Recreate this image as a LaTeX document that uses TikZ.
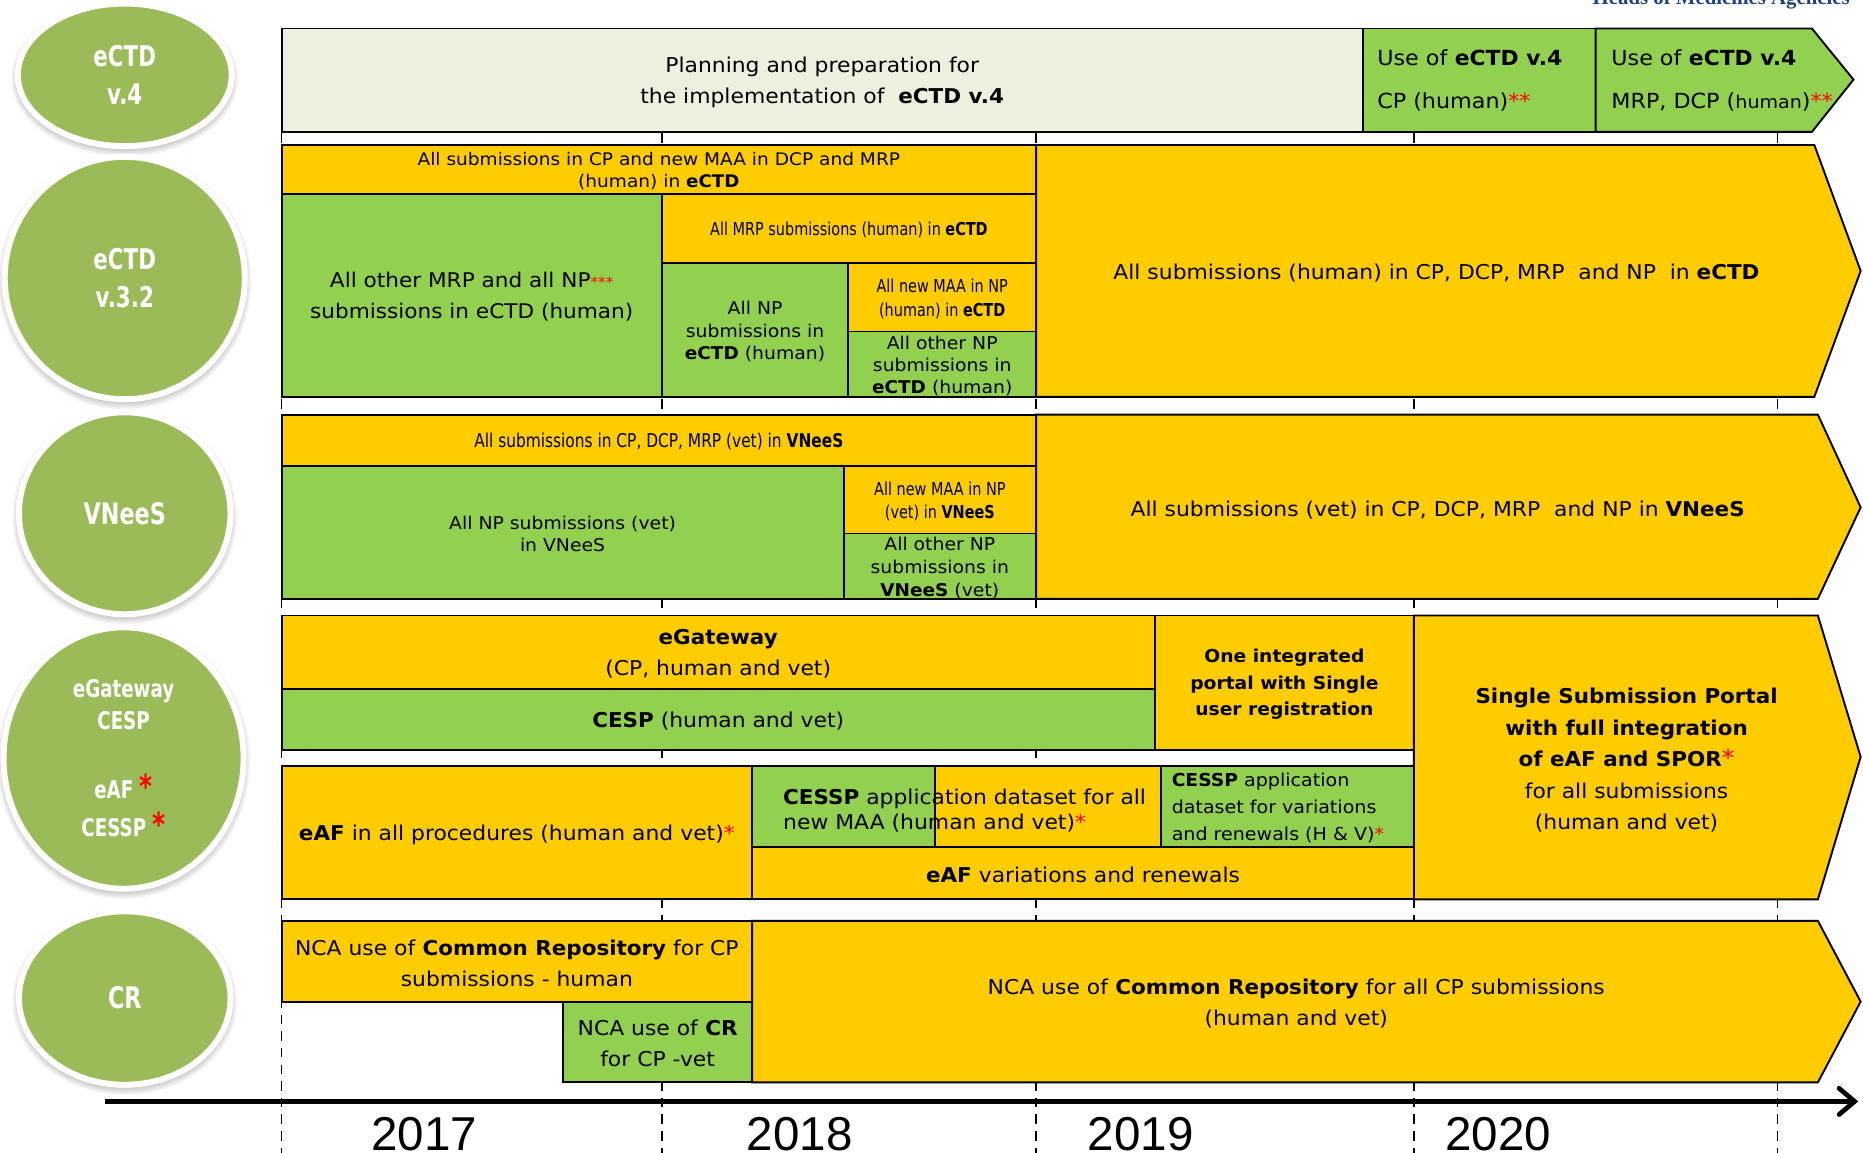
\documentclass[tikz,border=0pt]{standalone}
\usepackage{fontspec}
\setmainfont{DejaVu Sans}[UprightFeatures={FakeStretch=1.07}, BoldFeatures={FakeStretch=1.05}]
\newfontfamily\cond[FakeStretch=0.81]{DejaVu Sans}
\newfontfamily\circf[FakeStretch=0.75]{DejaVu Sans}
\newfontfamily\yearf{Liberation Sans}
\newfontfamily\hmaf{Liberation Serif}
\usetikzlibrary{shapes.geometric,arrows.meta}
\definecolor{yel}{HTML}{FFCC00}
\definecolor{grn}{HTML}{92D050}
\definecolor{olv}{HTML}{9BBB59}
\definecolor{pln}{HTML}{EBF1DE}
\definecolor{hma}{HTML}{1F3F7F}
\newcommand\fsz[2]{\fontsize{#1}{#2}\selectfont}
\newcommand\rs[1]{\textcolor{red}{#1}}
\tikzset{
  cellbox/.style={draw=black, line width=1.6pt, inner sep=0pt},
  celltext/.style={inner sep=0pt, align=center},
  arrowbox/.style={draw=black, line width=1.6pt, line join=miter},
  bub/.style={ellipse, fill=olv, draw=white, line width=5pt, inner sep=0pt,
    text=white, align=center},
  yearlbl/.style={font=\yearf\fsz{40}{40}, anchor=base},
  gridline/.style={black, line width=1.2pt, dash pattern=on 8pt off 6pt},
}
% name, x1, y1, x2, y2, fill, font, text
\newcommand\cell[8]{%
  \node[cellbox, fill=#6, minimum width={(#4-#2)*1pt}, minimum height={(#5-#3)*1pt}]
    (#1) at ({(#2+#4)/2},{(#3+#5)/2}) {};
  \node[celltext, font=#7] (#1-t) at ({(#2+#4)/2},{(#3+#5)/2+1.5}) {#8};}
% name, cx, cy, rx, ry, font, text
\newcommand\bubble[7]{%
  \foreach \k in {0,...,5}
    \fill[black, opacity=0.045] (#2,#3+3) ellipse [x radius={(#4+4+\k*1.3)*1pt}, y radius={(#5+4+\k*1.3)*1pt}];
  \node[bub, font=#6, minimum width={(2*#4+10)*1pt}, minimum height={(2*#5+10)*1pt}] (#1) at (#2,#3) {#7};}
\begin{document}
\begin{tikzpicture}[x=1pt,y=-1pt]
\useasboundingbox (0,0) rectangle (1568,970);
\clip (0,0) rectangle (1568,970);

% header (cut off at top)
\node[font=\hmaf\bfseries\fsz{17.5}{17.5}, text=hma, anchor=base east, inner sep=0pt] (hma) at (1557,4) {Heads of Medicines Agencies};

% year grid lines
\foreach \n/\x in {a/237,b/557,c/872,d/1190,e/1496}{
  \coordinate (g\n t) at (\x,70);
  \coordinate (g\n b) at (\x,975);
  \draw[gridline] (g\n t) -- (g\n b);
}

% bubbles
\bubble{b1}{105}{63}{85}{55}{\circf\bfseries\fsz{24}{32}}{eCTD\\v.4}
\bubble{b2}{105}{234}{96}{97}{\circf\bfseries\fsz{24}{32}}{eCTD\\v.3.2}
\bubble{b3}{105}{432}{84}{80}{\circf\bfseries\fsz{25}{32}}{VNeeS}
\bubble{b4}{104}{638}{96}{105}{\circf\bfseries\fsz{20.5}{27}}{eGateway\\CESP\\[31pt]eAF {\fsz{28}{27}\rs{*}}\\[5pt]CESSP {\fsz{28}{27}\rs{*}}}
\bubble{b5}{105}{840}{84}{68}{\circf\bfseries\fsz{25}{32}}{CR}

% ---------- row 1 : eCTD v.4
\cell{plan}{237}{24}{1147}{111}{pln}{\fsz{17.2}{26}}{Planning and preparation for\\the implementation of \ \textbf{eCTD v.4}}
\cell{v4cp}{1147}{24}{1343}{111}{grn}{}{}
\node[anchor=west, align=left, inner sep=0pt, font=\fsz{17.5}{36}] (v4cpt) at (1159,68) {Use of \textbf{eCTD v.4}\\CP (human)\rs{**}};
\draw[arrowbox, fill=grn] (1343,24) -- (1525,24) -- (1560,67) -- (1525,111) -- (1343,111) -- cycle;
\node[anchor=west, align=left, inner sep=0pt, font=\fsz{17.5}{36}] (v4mrp) at (1356,68) {Use of \textbf{eCTD v.4}\\MRP, DCP ({\fsz{15}{36}human})\rs{**}};

% ---------- row 2 : eCTD v.3.2
\cell{r2top}{237}{122}{872}{163}{yel}{\fsz{14.6}{19}}{All submissions in CP and new MAA in DCP and MRP\\(human) in \textbf{eCTD}}
\cell{r2a}{237}{163}{557}{334}{grn}{\fsz{17}{26}}{All other MRP and all NP{\fsz{12}{12}\rs{***}}\\submissions in eCTD (human)}
\cell{r2b}{557}{163}{872}{221}{yel}{\cond\fsz{15}{19}}{All MRP submissions (human) in \textbf{eCTD}}
\cell{r2c}{557}{221}{714}{334}{grn}{\fsz{14.8}{19}}{All NP\\submissions in\\\textbf{eCTD} (human)}
\cell{r2d}{714}{221}{872}{279}{yel}{\cond\fsz{15}{20}}{All new MAA in NP\\(human) in \textbf{eCTD}}
\cell{r2e}{714}{279}{872}{334}{grn}{\fsz{14.8}{18.5}}{All other NP\\submissions in\\\textbf{eCTD} (human)}
\draw[arrowbox, fill=yel] (872,122) -- (1527,122) -- (1566,228) -- (1527,334) -- (872,334) -- cycle;
\node[font=\fsz{17.2}{20}] (r2arr) at (1209,230) {All submissions (human) in CP, DCP, MRP \ and NP \ in \textbf{eCTD}};

% ---------- row 3 : VNeeS
\cell{r3top}{237}{349}{872}{392}{yel}{\cond\fsz{16}{19}}{All submissions in CP, DCP, MRP (vet) in \textbf{VNeeS}}
\cell{r3a}{237}{392}{710}{504}{grn}{\fsz{14.8}{19}}{All NP submissions (vet)\\in VNeeS}
\cell{r3b}{710}{392}{872}{449}{yel}{\cond\fsz{15}{20}}{All new MAA in NP\\(vet) in \textbf{VNeeS}}
\cell{r3c}{710}{449}{872}{504}{grn}{\fsz{14.8}{19}}{All other NP\\submissions in\\\textbf{VNeeS} (vet)}
\draw[arrowbox, fill=yel] (872,349) -- (1530,349) -- (1566,427) -- (1530,504) -- (872,504) -- cycle;
\node[font=\fsz{17.2}{20}] (r3arr) at (1210,429) {All submissions (vet) in CP, DCP, MRP \ and NP in \textbf{VNeeS}};

% ---------- row 4 : eGateway / CESP / eAF / CESSP
\cell{egw}{237}{518}{972}{580}{yel}{\fsz{17.2}{26}}{\textbf{eGateway}\\(CP, human and vet)}
\cell{cesp}{237}{580}{972}{631}{grn}{\fsz{17.2}{20}}{\textbf{CESP} (human and vet)}
\cell{oip}{972}{518}{1190}{631}{yel}{\bfseries\fsz{15}{22.5}}{One integrated\\portal with Single\\user registration}
\draw[arrowbox, fill=yel] (1190,518) -- (1530,518) -- (1566,637) -- (1530,757) -- (1190,757) -- cycle;
\node[align=center, font=\fsz{17.2}{26.5}] (ssp) at (1369,640) {\textbf{Single Submission Portal}\\\textbf{with full integration}\\\textbf{of eAF and SPOR}{\fsz{20}{20}\rs{*}}\\for all submissions\\(human and vet)};
\cell{eaf}{237}{645}{633}{757}{yel}{\fsz{17.2}{20}}{\textbf{eAF} in all procedures (human and vet)\rs{*}}
\cell{cesspg}{633}{645}{787}{713}{grn}{}{}
\cell{cesspy}{787}{645}{977}{713}{yel}{}{}
\node[anchor=west, align=left, inner sep=0pt, font=\fsz{17.2}{21}] (cesspt) at (659,682) {\textbf{CESSP} application dataset for all\\new MAA (human and vet)\rs{*}};
\cell{cesspv}{977}{645}{1190}{713}{grn}{}{}
\node[anchor=west, align=left, inner sep=0pt, font=\fsz{15}{22.5}] (cesspvt) at (986,680) {\textbf{CESSP} application\\dataset for variations\\and renewals (H \& V)\rs{*}};
\cell{eafvar}{633}{713}{1190}{757}{yel}{\fsz{17.2}{20}}{\textbf{eAF} variations and renewals}

% ---------- row 5 : CR
\cell{cr1}{237}{775}{633}{843}{yel}{\fsz{17.2}{26}}{NCA use of \textbf{Common Repository} for CP\\submissions - human}
\cell{cr2}{474}{843}{633}{911}{grn}{\fsz{17.2}{26}}{NCA use of \textbf{CR}\\for CP -vet}
\draw[arrowbox, fill=yel] (633,775) -- (1530,775) -- (1566,843) -- (1530,911) -- (633,911) -- cycle;
\node[align=center, font=\fsz{17.2}{26}] (crarr) at (1091,845) {NCA use of \textbf{Common Repository} for all CP submissions\\(human and vet)};

% ---------- time axis
\coordinate (axs) at (88,927);
\coordinate (axe) at (1564,927);
\draw[line width=4pt, -{Straight Barb[length=13pt, width=22pt, line cap=round]}] (axs) -- (axe);
\node[yearlbl] (y17) at (357,968) {2017};
\node[yearlbl] (y18) at (673,968) {2018};
\node[yearlbl] (y19) at (960,968) {2019};
\node[yearlbl] (y20) at (1261,968) {2020};
\end{tikzpicture}
\end{document}
